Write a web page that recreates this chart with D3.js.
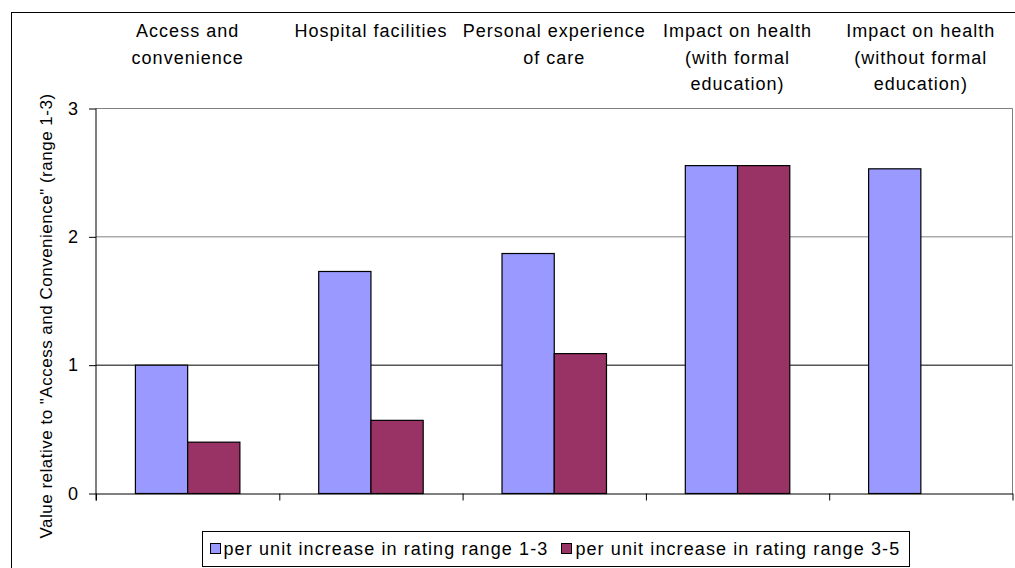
<!DOCTYPE html>
<html>
<head>
<meta charset="utf-8">
<script src="https://cdn.jsdelivr.net/npm/d3@7"></script>
<style>
  html, body { margin: 0; padding: 0; background: #fff; }
  svg { display: block; }
  text { font-family: "Liberation Sans", Arial, sans-serif; fill: #000; }
</style>
</head>
<body>
<svg id="chart" width="1015" height="568"></svg>
<script>
// ---- data ----
const categories = [
  ["Access and", "convenience"],
  ["Hospital facilities"],
  ["Personal experience", "of care"],
  ["Impact on health", "(with formal", "education)"],
  ["Impact on health", "(without formal", "education)"]
];
const seriesNames = ["per unit increase in rating range 1-3", "per unit increase in rating range 3-5"];
const series1 = [1.00, 1.73, 1.87, 2.555, 2.53];
const series2 = [0.40, 0.57, 1.09, 2.555, null];
const yTicks = [0, 1, 2, 3];
const yTitle = "Value relative to \"Access and Convenience\" (range 1-3)";

// ---- layout ----
const svg = d3.select("#chart");
const W = 1015, H = 568;
const plot = { left: 96, right: 1012.5, top: 108.5, bottom: 493.5 };
const colors = ["#9999FF", "#993366"];
const fontSize = 18, ls = "1px";

// outer border
svg.append("rect").attr("x", 11.5).attr("y", 12.5).attr("width", W + 10).attr("height", H + 10)
  .attr("fill", "#fff").attr("stroke", "#000").attr("stroke-width", 1);

const idx = d3.range(categories.length);
const x = d3.scaleBand().domain(idx).range([plot.left, plot.right]).paddingInner(0).paddingOuter(0);
const y = d3.scaleLinear().domain([0, 3]).range([plot.bottom, plot.top]);
const gap = 0.43; // fraction of band that is empty
const barW = x.bandwidth() * (1 - gap) / 2;

// gridlines
svg.append("g").selectAll("line").data(yTicks.filter(d => d > 0)).join("line")
  .attr("x1", plot.left).attr("x2", plot.right)
  .attr("y1", d => y(d)).attr("y2", d => y(d))
  .attr("stroke", d => d === 1 ? "#000" : "#808080").attr("stroke-width", 1);

// plot area right border
svg.append("line").attr("x1", plot.right).attr("x2", plot.right)
  .attr("y1", plot.top).attr("y2", plot.bottom).attr("stroke", "#808080");

// bars
const data = [];
idx.forEach(i => {
  [series1[i], series2[i]].forEach((v, s) => {
    if (v != null) data.push({ i, s, v });
  });
});
svg.append("g").selectAll("rect").data(data).join("rect")
  .attr("x", d => x(d.i) + x.bandwidth() * gap / 2 + d.s * barW)
  .attr("y", d => y(d.v))
  .attr("width", barW)
  .attr("height", d => y(0) - y(d.v))
  .attr("fill", d => colors[d.s])
  .attr("stroke", "#000").attr("stroke-width", 1.2);

// y axis
const yAxis = d3.axisLeft(y).tickValues(yTicks).tickFormat(d3.format("d")).tickSize(7).tickPadding(10);
const gy = svg.append("g").attr("transform", `translate(${plot.left},0)`).call(yAxis);
gy.select(".domain").attr("d", `M0,${plot.top}V${plot.bottom + 7}`).attr("stroke", "#000");
gy.selectAll(".tick line").attr("stroke", "#000");
gy.selectAll(".tick text").style("font-size", fontSize + "px").style("letter-spacing", ls)
  .attr("font-family", null).attr("fill", "#000");

// x axis (ticks at band boundaries)
const xEdges = idx.map(i => x(i)).concat([plot.right]);
const xAxisScale = d3.scaleLinear().domain([plot.left, plot.right]).range([plot.left, plot.right]);
const xAxis = d3.axisBottom(xAxisScale).tickValues(xEdges).tickFormat("").tickSize(7).tickSizeOuter(0);
const gx = svg.append("g").attr("transform", `translate(0,${plot.bottom})`).call(xAxis);
gx.select(".domain").attr("stroke", "#000");
gx.selectAll(".tick line").attr("stroke", "#000");

// category labels at top
const lineH = 26.5;
const gl = svg.append("g");
categories.forEach((lines, i) => {
  const t = gl.append("text").attr("text-anchor", "middle")
    .attr("x", x(i) + x.bandwidth() / 2).attr("y", 37)
    .style("font-size", fontSize + "px").style("letter-spacing", ls);
  lines.forEach((ln, k) => {
    t.append("tspan").attr("x", x(i) + x.bandwidth() / 2).attr("y", 37 + k * lineH).text(ln);
  });
});

// y title
svg.append("text").attr("text-anchor", "middle")
  .attr("transform", `translate(52,316) rotate(-90)`)
  .style("font-size", "17px").style("letter-spacing", "0.5px")
  .text(yTitle);

// legend (laid out from measured text widths)
const lg = svg.append("g");
const box = lg.append("rect").attr("fill", "#fff").attr("stroke", "#000");
const sq = 10, padL = 7, sqGap = 4, itemGap = 13, padR = 9;
let cx = 0;
const items = seriesNames.map((n, s) => {
  const r = lg.append("rect").attr("width", sq).attr("height", sq)
    .attr("fill", colors[s]).attr("stroke", "#000");
  const t = lg.append("text").style("font-size", fontSize + "px").style("letter-spacing", "1.1px").text(n);
  return { r, t, w: t.node().getComputedTextLength() };
});
const totalW = padL + items.reduce((a, it) => a + sq + sqGap + it.w, 0) + itemGap * (items.length - 1) + padR;
const lx0 = Math.round(555 - totalW / 2) + 0.5;
cx = lx0 + padL;
items.forEach(it => {
  it.r.attr("x", Math.round(cx) + 0.5).attr("y", 543.5);
  it.t.attr("x", cx + sq + sqGap).attr("y", 555);
  cx += sq + sqGap + it.w + itemGap;
});
box.attr("x", lx0).attr("y", 531.5).attr("width", Math.round(totalW)).attr("height", 35);
</script>
</body>
</html>
